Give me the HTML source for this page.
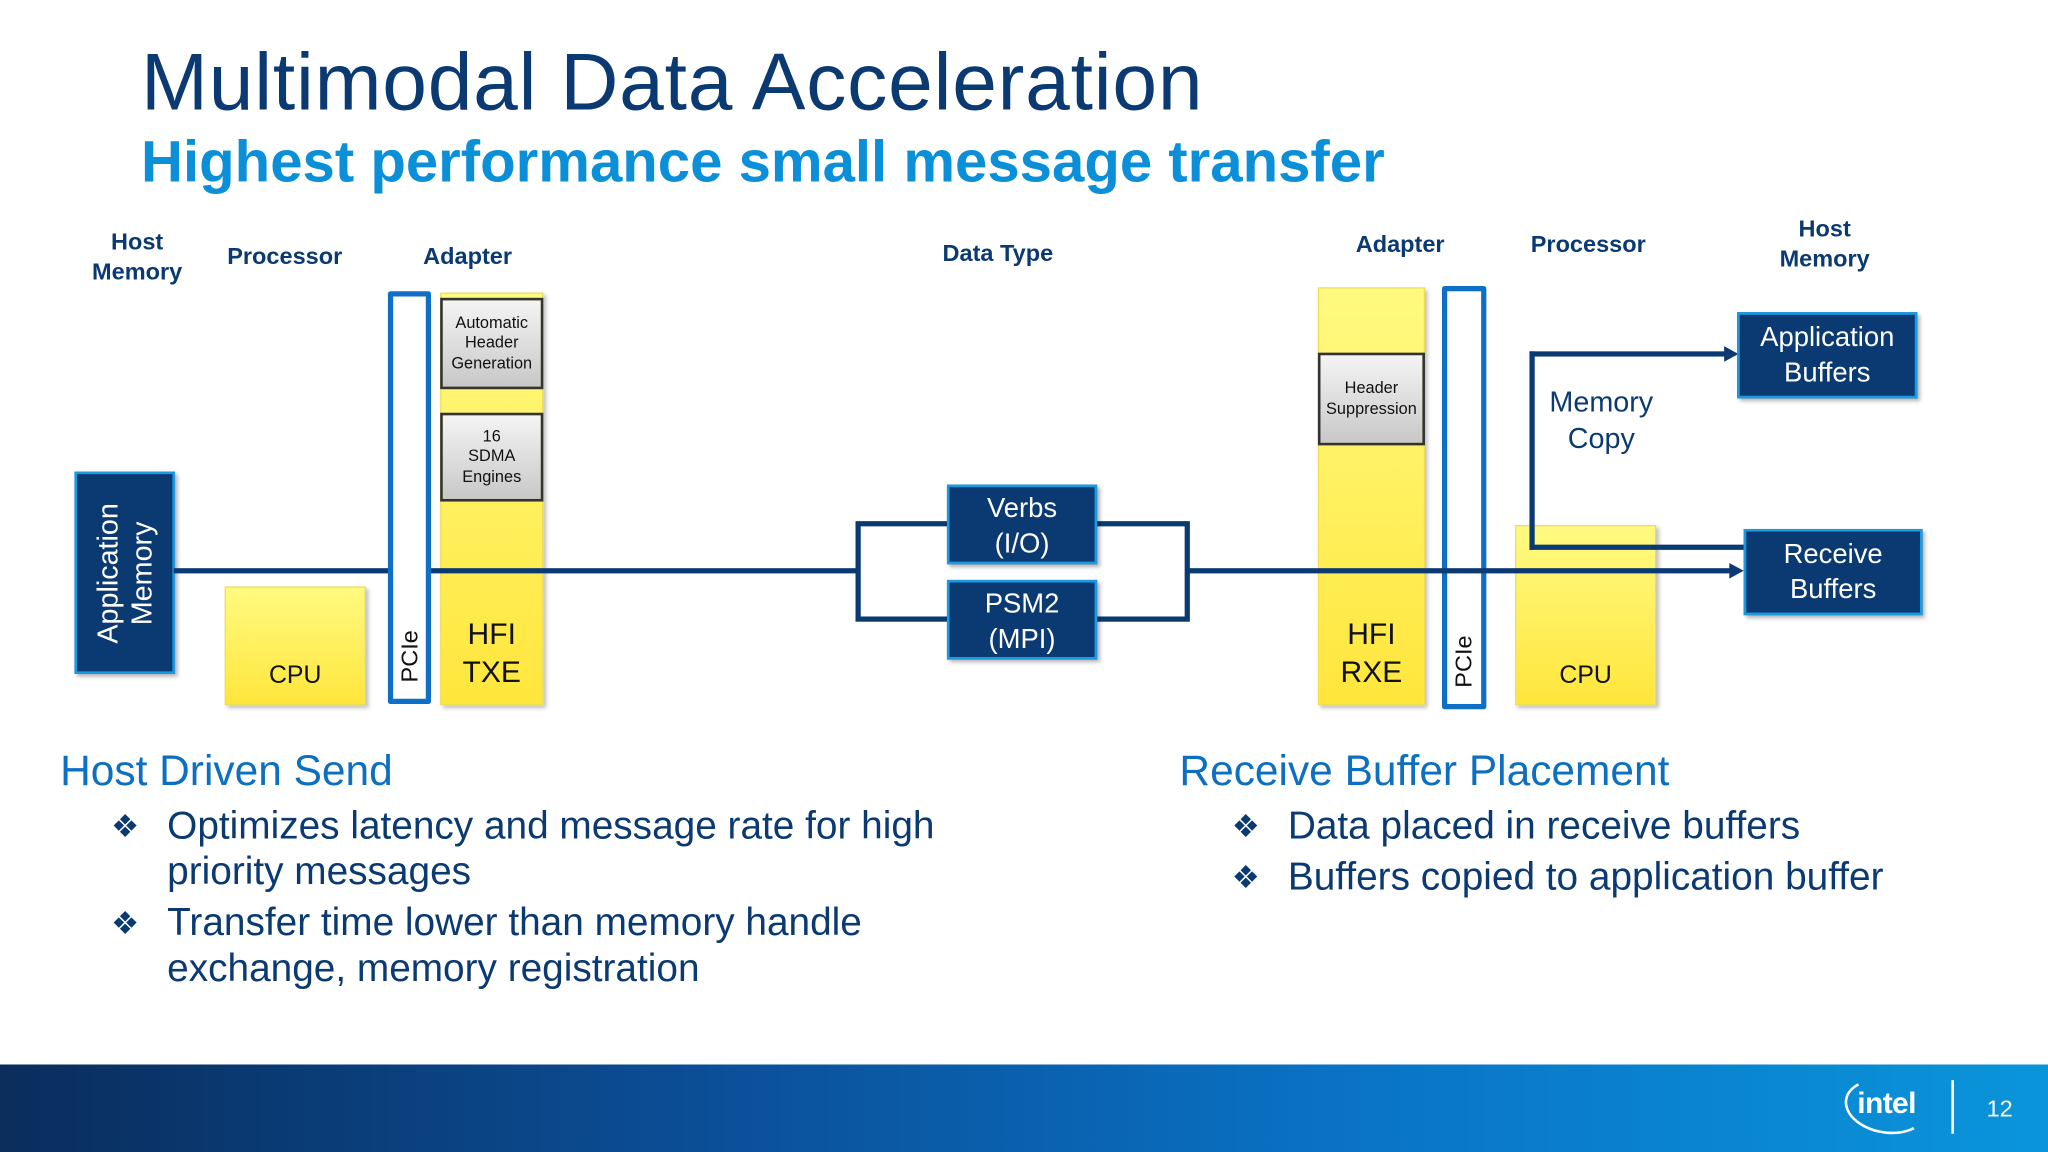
<!DOCTYPE html>
<html><head><meta charset="utf-8"><style>
*{margin:0;padding:0;box-sizing:border-box}
body{width:2048px;height:1152px;overflow:hidden;background:#fff;font-family:"Liberation Sans",sans-serif}
#w{position:absolute;left:0;top:0;width:1568px;height:882px;transform:scale(1.306122);transform-origin:0 0}
.a{position:absolute}
.h{position:absolute;font-weight:bold;font-size:18px;color:#0b3a73;text-align:center;line-height:23px}
.nav{position:absolute;background:#0b3a73;border:2px solid #1a9ae0;color:#fff;text-align:center;box-shadow:2px 2px 3px rgba(0,0,0,.3)}
.yel{position:absolute;background:linear-gradient(#fffa80,#fff266 40%,#ffe63c);border:1px solid #f0dc50;box-shadow:2px 2px 3px rgba(0,0,0,.25)}
.gray{position:absolute;background:linear-gradient(#f4f4f4,#c8c8c8);border:2px solid #333;font-size:12.5px;color:#111;text-align:center;line-height:15.5px;display:flex;align-items:center;justify-content:center}
.pcie{position:absolute;border:4px solid #0f6fc6;background:#fff;border-radius:2px}
.ln{position:absolute;background:#0b3a73}
.bt{position:absolute;font-size:29.7px;color:#0b3a73;line-height:35px;white-space:nowrap}
.bu{position:absolute;font-size:24px;color:#0b3a73;line-height:35px}
</style></head><body><div id="w">
<div class="a" style="left:108px;top:28px;font-size:61.5px;color:#0b3a73;letter-spacing:0.6px">Multimodal Data Acceleration</div>
<div class="a" style="left:108px;top:100px;font-size:44.5px;font-weight:bold;color:#0a8fd8">Highest performance small message transfer</div>

<div class="h" style="left:55px;top:174px;width:100px">Host<br>Memory</div>
<div class="h" style="left:165px;top:185px;width:106px">Processor</div>
<div class="h" style="left:313px;top:185px;width:90px">Adapter</div>
<div class="h" style="left:705px;top:183px;width:118px">Data Type</div>
<div class="h" style="left:1025px;top:176px;width:94px">Adapter</div>
<div class="h" style="left:1163px;top:176px;width:106px">Processor</div>
<div class="h" style="left:1347px;top:164px;width:100px">Host<br>Memory</div>

<!-- left side -->
<div class="nav" style="left:57px;top:361px;width:77px;height:155px"><div style="position:absolute;left:50%;top:50%;transform:translate(-50%,-50%) rotate(-90deg);font-size:22px;line-height:26px;white-space:nowrap">Application<br>Memory</div></div>
<div class="yel" style="left:172px;top:449px;width:108px;height:91px"><div style="position:absolute;bottom:10px;width:100%;text-align:center;font-size:19px;color:#111">CPU</div></div>
<div class="yel" style="left:337px;top:224px;width:79px;height:316px"><div style="position:absolute;bottom:10px;width:100%;text-align:center;font-size:23px;line-height:29px;color:#111">HFI<br>TXE</div></div>
<div class="ln" style="left:133px;top:435px;width:524px;height:4px"></div>
<div class="pcie" style="left:297px;top:223px;width:33px;height:316px"><div style="position:absolute;left:50%;bottom:22px;transform:translateX(-50%) rotate(-90deg);font-size:18px;color:#111">PCIe</div></div>
<div class="gray" style="left:337px;top:228px;width:79px;height:70px">Automatic<br>Header<br>Generation</div>
<div class="gray" style="left:337px;top:316px;width:79px;height:68px">16<br>SDMA<br>Engines</div>

<!-- middle -->
<div class="a" style="left:655px;top:399px;width:256px;height:77px;border:4px solid #0b3a73"></div>
<div class="nav" style="left:725px;top:371px;width:115px;height:61px;font-size:21px;line-height:27px;padding-top:3px;color:#fff">Verbs<br>(I/O)</div>
<div class="nav" style="left:725px;top:444px;width:115px;height:61px;font-size:21px;line-height:27px;padding-top:3px">PSM2<br>(MPI)</div>

<!-- right -->
<div class="yel" style="left:1009px;top:220px;width:82px;height:320px"><div style="position:absolute;bottom:10px;width:100%;text-align:center;font-size:23px;line-height:29px;color:#111">HFI<br>RXE</div></div>
<div class="gray" style="left:1009px;top:270px;width:82px;height:71px">Header<br>Suppression</div>
<div class="pcie" style="left:1104px;top:219px;width:34px;height:324px;background:#fff"><div style="position:absolute;left:50%;bottom:22px;transform:translateX(-50%) rotate(-90deg);font-size:18px;color:#111">PCIe</div></div>
<div class="yel" style="left:1160px;top:402px;width:108px;height:138px"><div style="position:absolute;bottom:10px;width:100%;text-align:center;font-size:19px;color:#111">CPU</div></div>
<div class="ln" style="left:910px;top:435px;width:415px;height:4px"></div>
<div class="ln" style="left:1171px;top:269px;width:4px;height:152px"></div>
<div class="ln" style="left:1171px;top:269px;width:150px;height:4px"></div>
<div class="ln" style="left:1171px;top:417px;width:164px;height:4px"></div>
<div class="a" style="left:1320px;top:265px;border-left:11px solid #0b3a73;border-top:6px solid transparent;border-bottom:6px solid transparent"></div>
<div class="a" style="left:1324px;top:431px;border-left:11px solid #0b3a73;border-top:6px solid transparent;border-bottom:6px solid transparent"></div>
<div class="a" style="left:1180px;top:294px;width:92px;text-align:center;font-size:22px;line-height:28px;color:#0b3a73">Memory<br>Copy</div>
<div class="nav" style="left:1330px;top:239px;width:138px;height:66px;font-size:21px;line-height:27px;padding-top:4px">Application<br>Buffers</div>
<div class="nav" style="left:1335px;top:405px;width:137px;height:66px;font-size:21px;line-height:27px;padding-top:4px">Receive<br>Buffers</div>

<!-- text -->
<div class="a" style="left:46px;top:572px;font-size:32.5px;color:#0d6fc0">Host Driven Send</div>
<div class="bu" style="left:85px;top:616px">❖</div>
<div class="bt" style="left:128px;top:615px">Optimizes latency and message rate for high<br>priority messages</div>
<div class="bu" style="left:85px;top:690px">❖</div>
<div class="bt" style="left:128px;top:689px">Transfer time lower than memory handle<br>exchange, memory registration</div>
<div class="a" style="left:903px;top:572px;font-size:32.5px;color:#0d6fc0">Receive Buffer Placement</div>
<div class="bu" style="left:943px;top:616px">❖</div>
<div class="bt" style="left:986px;top:615px">Data placed in receive buffers</div>
<div class="bu" style="left:943px;top:655px">❖</div>
<div class="bt" style="left:986px;top:654px">Buffers copied to application buffer</div>

<!-- footer -->
<div class="a" style="left:0;top:815px;width:1568px;height:67px;background:linear-gradient(90deg,#0a2d5c,#0b4f98 35%,#0a72c4 65%,#0a95da)"></div>
<div class="a" style="left:1412px;top:826px;width:64px;height:42px;border:2px solid #fff;border-radius:50%;border-right-color:transparent;border-top-color:transparent;transform:rotate(10deg)"></div>
<div class="a" style="left:1422px;top:831px;font-size:23px;color:#fff;font-weight:bold;letter-spacing:-0.5px">intel</div>
<div class="a" style="left:1494px;top:827px;width:1.5px;height:41px;background:#fff"></div>
<div class="a" style="left:1521px;top:839px;font-size:18px;color:#fff">12</div>
</div></body></html>
